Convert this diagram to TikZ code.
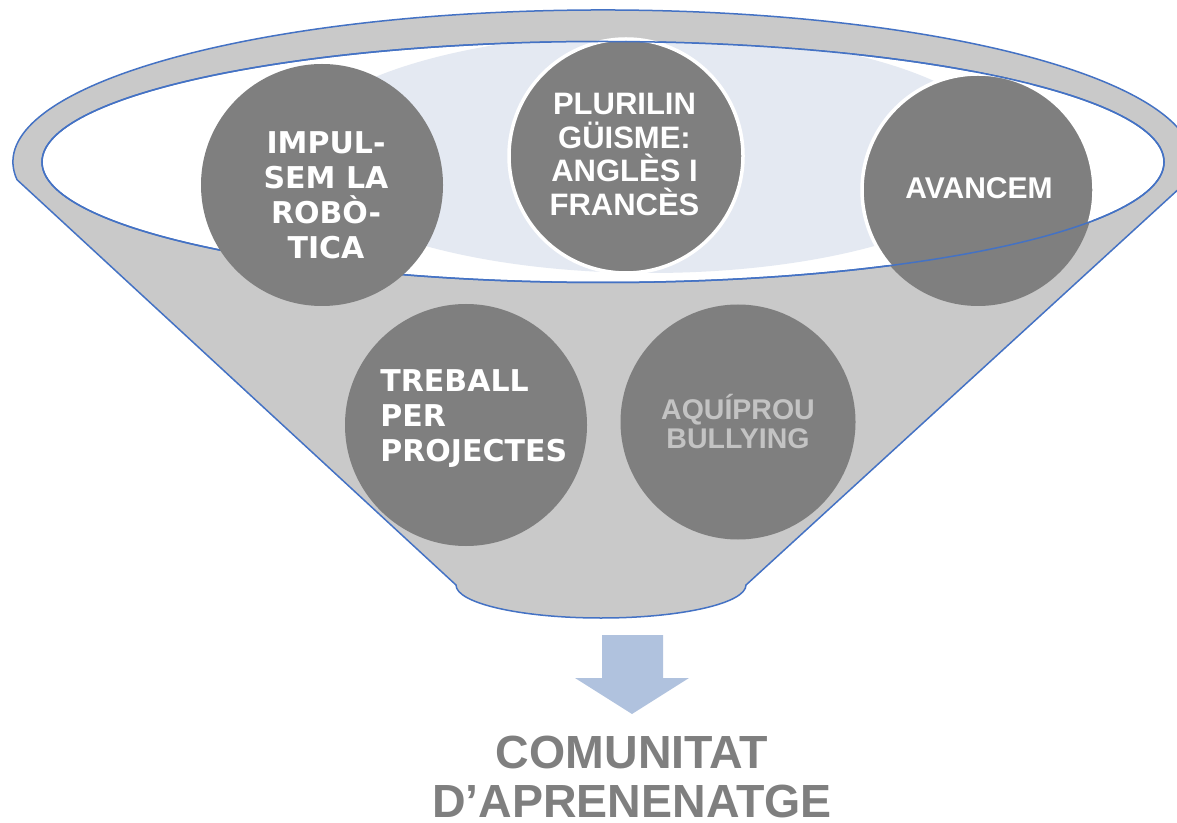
\documentclass[tikz,border=0pt]{standalone}
\usepackage{fontspec}
\setmainfont{Liberation Sans}
\newfontfamily\widefont{DejaVu Sans}
\definecolor{funnelgray}{HTML}{C9C9C9}
\definecolor{circgray}{HTML}{7F7F7F}
\definecolor{edgeblue}{HTML}{4472C4}
\definecolor{mouthblue}{HTML}{E4E9F2}
\definecolor{arrowblue}{HTML}{B0C2DE}
\definecolor{palegray}{HTML}{C3C3C3}
\begin{document}
\begin{tikzpicture}[x=0.5pt, y=-0.5pt,
    bolla/.style={circle, fill=circgray, inner sep=0pt, minimum size=#1},
    anella/.style={draw=white, line width=1.75pt},
    lletra/.style={text=white, inner sep=0pt, align=center, font=\bfseries\fontsize{15}{16.75}\selectfont},
    lletraw/.style={lletra, font=\widefont\bfseries\fontsize{15}{17.5}\selectfont},
    vora/.style={draw=edgeblue, line width=0.75pt}]
  \useasboundingbox (0,0) rectangle (1177,823);
  % funnel body
  \fill[funnelgray, vora] (17,179.7) arc[start angle=186.7, end angle=-6.7, x radius=295pt, y radius=76pt]
    -- (746,585) arc[start angle=0, end angle=-180, x radius=72.5pt, y radius=16.5pt] -- cycle;
  \filldraw[fill=white, vora] (603,162) ellipse[x radius=280.5pt, y radius=60.25pt];
  \begin{scope}
    \clip (603,162) ellipse[x radius=280.5pt, y radius=60.25pt];
    \fill[mouthblue] (650,153) ellipse[x radius=177.5pt, y radius=60pt];
  \end{scope}
  % circles in the mouth
  \node[bolla=117pt, anella] (plurilin) at (626,156) {};
  \node[bolla=116pt] (avancem) at (978,190) {};
  \begin{scope}
    \clip (603,162) ellipse[x radius=280.5pt, y radius=60.25pt];
    \draw[white, line width=1.75pt] (avancem.center) circle[radius=58pt];
  \end{scope}
  \draw[vora] (603,162) ellipse[x radius=280.5pt, y radius=60.25pt];
  \node[bolla=121pt] (robotica) at (322,185) {};
  % circles in the body
  \node[bolla=121pt] (treball) at (466,425) {};
  \node[bolla=117.5pt] (aquiprou) at (738,422) {};
  % texts
  \node[lletraw] (robotica-text) at (326,195.5) {IMPUL-\\SEM LA\\ROBÒ-\\TICA};
  \node[lletra, font=\bfseries\fontsize{15.5}{16.75}\selectfont] (plurilin-text) at (624.5,154.5) {PLURILIN\\GÜISME:\\ANGLÈS I\\FRANCÈS};
  \node[lletra] (avancem-text) at (979,188.5) {AVANCEM};
  \node[lletraw, align=left, anchor=west] (treball-text) at (380,419) {TREBALL\\PER\\PROJECTES};
  \node[lletra, text=palegray, font=\bfseries\fontsize{14.25}{14.5}\selectfont] (aquiprou-text) at (738,421.5) {AQUÍPROU\\BULLYING};
  % arrow and result
  \fill[arrowblue] (602,635) -- (663,635) -- (663,678) -- (689,678) -- (632,714) -- (575,678) -- (602,678) -- cycle;
  \node[text=circgray, inner sep=0pt, align=center, font=\bfseries\fontsize{23.25}{24.25}\selectfont] (comunitat) at (632,777) {COMUNITAT\\D’APRENENATGE};
\end{tikzpicture}
\end{document}
